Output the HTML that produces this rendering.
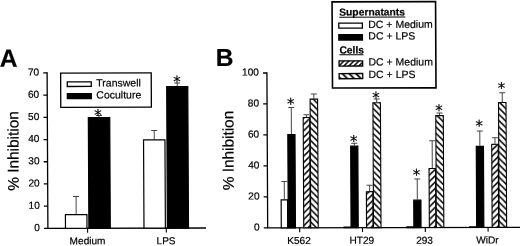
<!DOCTYPE html>
<html><head><meta charset="utf-8"><title>Figure</title>
<style>
html,body{margin:0;padding:0;background:#fff;}
body{width:520px;height:246px;overflow:hidden;}
svg{display:block;}
text{font-family:"Liberation Sans",Arial,sans-serif;fill:#000;stroke:#000;stroke-width:0.2px;}
.t{font-size:10.1px;}
.l{font-size:10.5px;}
.b{font-weight:bold;font-size:10.3px;}
.s{font-family:"DejaVu Sans","Liberation Sans",sans-serif;font-size:15px;}
.p{font-size:24.6px;font-weight:bold;}
.y{font-size:15.4px;}
</style></head><body>
<svg width="520" height="246" viewBox="0 0 520 246">
<defs>
<pattern id="h1" width="6.3" height="6.3" patternUnits="userSpaceOnUse"><rect width="6.3" height="6.3" fill="#fff"/><path d="M-6.3,12.6 L12.6,-6.3 M-6.3,6.3 L6.3,-6.3 M0,12.6 L12.6,0" stroke="#000" stroke-width="1.45"/></pattern>
<pattern id="h2" width="6.3" height="6.3" patternUnits="userSpaceOnUse"><rect width="6.3" height="6.3" fill="#fff"/><path d="M-6.3,-6.3 L12.6,12.6 M-6.3,0 L6.3,12.6 M0,-6.3 L12.6,6.3" stroke="#000" stroke-width="1.45"/></pattern>
<pattern id="h3" width="5" height="5" patternUnits="userSpaceOnUse" x="339.5" y="61"><rect width="5" height="5" fill="#fff"/><path d="M-5,10 L10,-5 M-5,5 L5,-5 M0,10 L10,0" stroke="#000" stroke-width="1.5"/></pattern>
<pattern id="h4" width="6.8" height="6.8" patternUnits="userSpaceOnUse" x="342" y="73"><rect width="6.8" height="6.8" fill="#fff"/><path d="M-6.8,-6.8 L13.6,13.6 M-6.8,0 L6.8,13.6 M0,-6.8 L13.6,6.8" stroke="#000" stroke-width="1.8"/></pattern>
</defs>
<rect width="520" height="246" fill="#fff"/>
<g transform="matrix(1 -0.002 0.005 1 -0.75 0.52)">

<text x="0.2" y="66.2" class="p">A</text>
<text x="216.1" y="65.8" class="p">B</text>
<g stroke="#000" stroke-width="1.3" fill="none">
<path d="M47.5,71.85 V227.9 H205.6"/>
<path d="M43.60,227.90 H47.5"/>
<path d="M43.60,205.70 H47.5"/>
<path d="M43.60,183.50 H47.5"/>
<path d="M43.60,161.30 H47.5"/>
<path d="M43.60,139.10 H47.5"/>
<path d="M43.60,116.90 H47.5"/>
<path d="M43.60,94.70 H47.5"/>
<path d="M43.60,72.50 H47.5"/>
<path d="M87.20,227.9 V232.30" stroke-width="1.1"/>
<path d="M165.90,227.9 V232.30" stroke-width="1.1"/>
</g>
<text class="t" x="39.50" y="230.45" text-anchor="end">0</text>
<text class="t" x="39.50" y="208.25" text-anchor="end">10</text>
<text class="t" x="39.50" y="186.05" text-anchor="end">20</text>
<text class="t" x="39.50" y="163.85" text-anchor="end">30</text>
<text class="t" x="39.50" y="141.65" text-anchor="end">40</text>
<text class="t" x="39.50" y="119.45" text-anchor="end">50</text>
<text class="t" x="39.50" y="97.25" text-anchor="end">60</text>
<text class="t" x="39.50" y="75.05" text-anchor="end">70</text>
<path d="M75.85,213.69 V196.15 M72.85,196.15 H78.85" stroke="#444" stroke-width="1" fill="none"/>
<rect x="65.10" y="214.29" width="21.50" height="13.61" fill="#fff" stroke="#000" stroke-width="1.2"/>
<path d="M99.20,116.68 V115.12 M96.20,115.12 H102.20" stroke="#444" stroke-width="1" fill="none"/>
<rect x="88.50" y="117.28" width="21.40" height="110.62" fill="#000" stroke="#000" stroke-width="1.2"/>
<text class="s" x="98.20" y="119.96" text-anchor="middle">*</text>
<path d="M154.30,139.10 V130.22 M151.30,130.22 H157.30" stroke="#444" stroke-width="1" fill="none"/>
<rect x="143.60" y="139.70" width="21.40" height="88.20" fill="#fff" stroke="#000" stroke-width="1.2"/>
<path d="M177.55,85.82 V82.93 M174.55,82.93 H180.55" stroke="#444" stroke-width="1" fill="none"/>
<rect x="167.00" y="86.42" width="21.10" height="141.48" fill="#000" stroke="#000" stroke-width="1.2"/>
<text class="s" x="177.40" y="86.56" text-anchor="middle">*</text>
<rect x="61.0" y="72.7" width="90.6" height="34.2" fill="#fff" stroke="#000" stroke-width="1.3"/>
<rect x="67.6" y="81.5" width="24" height="4.6" fill="#fff" stroke="#000" stroke-width="1.3"/>
<rect x="67.6" y="93.2" width="24" height="5" fill="#000" stroke="#000" stroke-width="1.3"/>
<text class="l" x="96.6" y="86.3">Transwell</text>
<text class="l" x="96.6" y="98.3">Coculture</text>
<text class="t" x="87.1" y="244" text-anchor="middle">Medium</text>
<text class="t" x="165.6" y="244" text-anchor="middle">LPS</text>
<text class="y" transform="translate(18.5,150.5) rotate(-90)" text-anchor="middle">% Inhibition</text>
<g stroke="#000" stroke-width="1.3" fill="none">
<path d="M267.3,72.35 V227.9 H520"/>
<path d="M263.40,227.90 H267.3"/>
<path d="M263.40,196.92 H267.3"/>
<path d="M263.40,165.94 H267.3"/>
<path d="M263.40,134.96 H267.3"/>
<path d="M263.40,103.98 H267.3"/>
<path d="M263.40,73.00 H267.3"/>
<path d="M299.30,227.9 V232.30" stroke-width="1.1"/>
<path d="M362.10,227.9 V232.30" stroke-width="1.1"/>
<path d="M424.90,227.9 V232.30" stroke-width="1.1"/>
<path d="M487.70,227.9 V232.30" stroke-width="1.1"/>
</g>
<text class="t" x="259.30" y="230.45" text-anchor="end">0</text>
<text class="t" x="259.30" y="199.47" text-anchor="end">20</text>
<text class="t" x="259.30" y="168.49" text-anchor="end">40</text>
<text class="t" x="259.30" y="137.51" text-anchor="end">60</text>
<text class="t" x="259.30" y="106.53" text-anchor="end">80</text>
<text class="t" x="259.30" y="75.55" text-anchor="end">100</text>
<text class="y" transform="translate(233.5,150.5) rotate(-90)" text-anchor="middle">% Inhibition</text>
<path d="M284.10,199.24 V181.43 M281.10,181.43 H287.10" stroke="#444" stroke-width="1" fill="none"/>
<rect x="280.90" y="199.84" width="6.40" height="28.06" fill="#fff" stroke="#000" stroke-width="1.2"/>
<path d="M291.48,134.03 V107.54 M288.48,107.54 H294.48" stroke="#444" stroke-width="1" fill="none"/>
<rect x="287.90" y="134.63" width="7.15" height="93.27" fill="#000" stroke="#000" stroke-width="1.2"/>
<text class="s" x="290.88" y="109.06" text-anchor="middle">*</text>
<path d="M306.60,116.99 V114.82 M303.60,114.82 H309.60" stroke="#444" stroke-width="1" fill="none"/>
<rect x="303.35" y="117.54" width="6.50" height="110.36" fill="url(#h1)" stroke="#000" stroke-width="1.1"/>
<path d="M314.10,98.71 V94.07 M311.10,94.07 H317.10" stroke="#444" stroke-width="1" fill="none"/>
<rect x="310.35" y="99.26" width="7.50" height="128.64" fill="url(#h2)" stroke="#000" stroke-width="1.1"/>
<text class="t" x="298.50" y="244" text-anchor="middle">K562</text>
<rect x="343.70" y="227.26" width="6.40" height="0.64" fill="#fff" stroke="#000" stroke-width="1.2"/>
<path d="M354.28,145.80 V143.32 M351.28,143.32 H357.28" stroke="#444" stroke-width="1" fill="none"/>
<rect x="350.70" y="146.40" width="7.15" height="81.50" fill="#000" stroke="#000" stroke-width="1.2"/>
<text class="s" x="353.68" y="146.36" text-anchor="middle">*</text>
<path d="M369.40,191.34 V185.46 M366.40,185.46 H372.40" stroke="#444" stroke-width="1" fill="none"/>
<rect x="366.15" y="191.89" width="6.50" height="36.01" fill="url(#h1)" stroke="#000" stroke-width="1.1"/>
<path d="M376.90,102.43 V99.33 M373.90,99.33 H379.90" stroke="#444" stroke-width="1" fill="none"/>
<rect x="373.15" y="102.98" width="7.50" height="124.92" fill="url(#h2)" stroke="#000" stroke-width="1.1"/>
<text class="s" x="376.30" y="102.96" text-anchor="middle">*</text>
<text class="t" x="361.30" y="244" text-anchor="middle">HT29</text>
<rect x="406.50" y="227.26" width="6.40" height="0.64" fill="#fff" stroke="#000" stroke-width="1.2"/>
<path d="M417.07,199.86 V179.42 M414.07,179.42 H420.07" stroke="#444" stroke-width="1" fill="none"/>
<rect x="413.50" y="200.46" width="7.15" height="27.44" fill="#000" stroke="#000" stroke-width="1.2"/>
<text class="s" x="416.47" y="180.36" text-anchor="middle">*</text>
<path d="M432.20,168.26 V141.00 M429.20,141.00 H435.20" stroke="#444" stroke-width="1" fill="none"/>
<rect x="428.95" y="168.81" width="6.50" height="59.09" fill="url(#h1)" stroke="#000" stroke-width="1.1"/>
<path d="M439.70,115.44 V113.27 M436.70,113.27 H442.70" stroke="#444" stroke-width="1" fill="none"/>
<rect x="435.95" y="115.99" width="7.50" height="111.91" fill="url(#h2)" stroke="#000" stroke-width="1.1"/>
<text class="s" x="439.10" y="115.96" text-anchor="middle">*</text>
<text class="t" x="424.10" y="244" text-anchor="middle">293</text>
<rect x="469.30" y="227.26" width="6.40" height="0.64" fill="#fff" stroke="#000" stroke-width="1.2"/>
<path d="M479.88,146.27 V131.40 M476.88,131.40 H482.88" stroke="#444" stroke-width="1" fill="none"/>
<rect x="476.30" y="146.87" width="7.15" height="81.03" fill="#000" stroke="#000" stroke-width="1.2"/>
<text class="s" x="479.27" y="131.36" text-anchor="middle">*</text>
<path d="M495.00,144.25 V138.21 M492.00,138.21 H498.00" stroke="#444" stroke-width="1" fill="none"/>
<rect x="491.75" y="144.80" width="6.50" height="83.10" fill="url(#h1)" stroke="#000" stroke-width="1.1"/>
<path d="M502.50,102.43 V93.29 M499.50,93.29 H505.50" stroke="#444" stroke-width="1" fill="none"/>
<rect x="498.75" y="102.98" width="7.50" height="124.92" fill="url(#h2)" stroke="#000" stroke-width="1.1"/>
<text class="s" x="501.90" y="93.76" text-anchor="middle">*</text>
<text class="t" x="486.90" y="244" text-anchor="middle">WiDr</text>
<rect x="332.8" y="2.0" width="103.5" height="86.2" fill="#fff" stroke="#000" stroke-width="1.6"/>
<text class="b" x="339.9" y="15.8">Supernatants</text>
<path d="M339.9,17.3 H406" stroke="#000" stroke-width="1"/>
<rect x="339.4" y="23.3" width="23.6" height="5" fill="#fff" stroke="#000" stroke-width="1.3"/>
<text class="l" x="368.9" y="28.2">DC + Medium</text>
<rect x="339.4" y="34.8" width="23.6" height="5.4" fill="#000" stroke="#000" stroke-width="1.3"/>
<text class="l" x="368.9" y="39.800">DC + LPS</text>
<text class="b" x="339.9" y="53.6">Cells</text>
<path d="M339.9,55 H364" stroke="#000" stroke-width="1"/>
<rect x="339.5" y="61" width="23.6" height="5.2" fill="url(#h3)" stroke="#000" stroke-width="1.3"/>
<text class="l" x="368.9" y="65.8">DC + Medium</text>
<rect x="339.5" y="73.7" width="23.6" height="5.2" fill="url(#h4)" stroke="#000" stroke-width="1.3"/>
<text class="l" x="368.9" y="78.3">DC + LPS</text>
</g>
</svg></body></html>
